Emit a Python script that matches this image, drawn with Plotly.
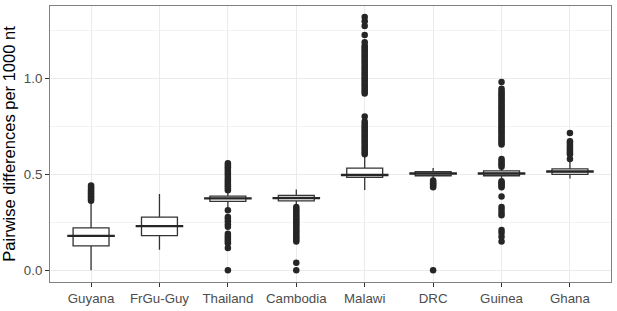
import plotly.graph_objects as go

categories = ["Guyana", "FrGu-Guy", "Thailand", "Cambodia", "Malawi", "DRC", "Guinea", "Ghana"]
q1_vals = [0.127, 0.180, 0.359, 0.362, 0.485, 0.493, 0.493, 0.500]
median_vals = [0.179, 0.230, 0.375, 0.376, 0.497, 0.505, 0.505, 0.515]
q3_vals = [0.221, 0.277, 0.387, 0.390, 0.533, 0.515, 0.519, 0.529]
lower_vals = [0.0, 0.107, 0.325, 0.340, 0.419, 0.478, 0.478, 0.479]
upper_vals = [0.355, 0.398, 0.412, 0.421, 0.598, 0.533, 0.535, 0.567]

out_guyana = [0.362, 0.370, 0.378, 0.386, 0.394, 0.402, 0.410, 0.418, 0.426, 0.434, 0.442]
out_thailand = [0.418, 0.428, 0.438, 0.448, 0.458, 0.468, 0.478, 0.488, 0.498, 0.508, 0.518,
                0.528, 0.538, 0.548, 0.558, 0.313, 0.278, 0.268, 0.255, 0.240, 0.227,
                0.190, 0.180, 0.170, 0.160, 0.150, 0.141, 0.115, 0.0]
out_cambodia = [0.330, 0.320, 0.310, 0.300, 0.290, 0.280, 0.270, 0.260, 0.250, 0.240, 0.230,
                0.220, 0.210, 0.200, 0.190, 0.180, 0.170, 0.160, 0.150, 0.038, 0.0]
out_malawi = [0.605, 0.615, 0.625, 0.635, 0.645, 0.655, 0.665, 0.675, 0.685, 0.695, 0.705,
              0.715, 0.725, 0.735, 0.745, 0.755, 0.765, 0.777, 0.803,
              0.923, 0.933, 0.943, 0.953, 0.963, 0.973, 0.983, 0.993, 1.003, 1.013, 1.023,
              1.033, 1.043, 1.053, 1.063, 1.073, 1.083, 1.093, 1.103, 1.113, 1.123, 1.133,
              1.143, 1.153, 1.163, 1.172, 1.190, 1.228, 1.275, 1.300, 1.323]
out_drc = [0.433, 0.440, 0.447, 0.454, 0.461, 0.468, 0.0]
out_guinea = [0.540, 0.550, 0.560, 0.570, 0.580, 0.656, 0.666, 0.676, 0.686, 0.696, 0.706,
              0.716, 0.726, 0.736, 0.746, 0.756, 0.766, 0.776, 0.786, 0.796, 0.806, 0.816,
              0.826, 0.836, 0.846, 0.856, 0.866, 0.876, 0.886, 0.896, 0.906, 0.916, 0.926,
              0.936, 0.948, 0.983, 0.433, 0.441, 0.449, 0.457, 0.465, 0.385, 0.330, 0.315,
              0.300, 0.287, 0.210, 0.195, 0.175, 0.150]
out_ghana = [0.581, 0.605, 0.615, 0.625, 0.635, 0.645, 0.655, 0.665, 0.673, 0.716]

outliers = {
    "Guyana": out_guyana,
    "Thailand": out_thailand,
    "Cambodia": out_cambodia,
    "Malawi": out_malawi,
    "DRC": out_drc,
    "Guinea": out_guinea,
    "Ghana": out_ghana,
}

fig = go.Figure()

fig.add_trace(go.Box(
    x=categories, q1=q1_vals, median=median_vals, q3=q3_vals,
    lowerfence=lower_vals, upperfence=upper_vals,
    boxpoints=False, fillcolor="white",
    line=dict(color="#333333", width=1.3), whiskerwidth=0,
    showlegend=False, hoverinfo="skip",
))

# thicker median lines (ggplot fatten); line-ew spans 1.4 x marker size
fig.add_trace(go.Scatter(
    x=categories, y=median_vals, mode="markers",
    marker=dict(symbol="line-ew-open", size=34, color="#262626",
                line=dict(color="#262626", width=2.4)),
    showlegend=False, hoverinfo="skip",
))

ox, oy = [], []
for c, vals in outliers.items():
    ox += [c] * len(vals)
    oy += vals
fig.add_trace(go.Scatter(
    x=ox, y=oy, mode="markers",
    marker=dict(color="#262626", size=6.5, line=dict(width=0)),
    showlegend=False, hoverinfo="skip",
))

fig.update_layout(
    width=617, height=311,
    margin=dict(l=50, r=5, t=6, b=24),
    paper_bgcolor="white", plot_bgcolor="white",
    font=dict(family="Liberation Sans, Arial, sans-serif", color="#4d4d4d", size=13),
    boxgap=0.25,
)

fig.update_xaxes(
    type="category", categoryorder="array", categoryarray=categories,
    range=[-0.6, 7.6], showgrid=True, gridcolor="#ebebeb", gridwidth=1,
    ticks="outside", ticklen=4, tickcolor="#333333", tickwidth=1,
    showline=True, mirror=True, linecolor="#808080", linewidth=1,
    zeroline=False, tickfont=dict(size=13.3, color="#4d4d4d"),
)
fig.update_yaxes(
    range=[-0.062, 1.380], tick0=0, dtick=0.5, tickformat=".1f",
    showgrid=True, gridcolor="#ebebeb", gridwidth=1,
    minor=dict(dtick=0.25, tick0=0, showgrid=True, gridcolor="#f3f3f3", gridwidth=0.6),
    ticks="outside", ticklen=4, tickcolor="#333333", tickwidth=1,
    showline=True, mirror=True, linecolor="#808080", linewidth=1,
    zeroline=False, tickfont=dict(size=13.3, color="#4d4d4d"),
    title=dict(text="Pairwise differences per 1000 nt", font=dict(size=16.5, color="black"), standoff=4),
)

fig.write_html("out.html", config={"displayModeBar": False},
               post_script="document.body.style.margin='0';")
